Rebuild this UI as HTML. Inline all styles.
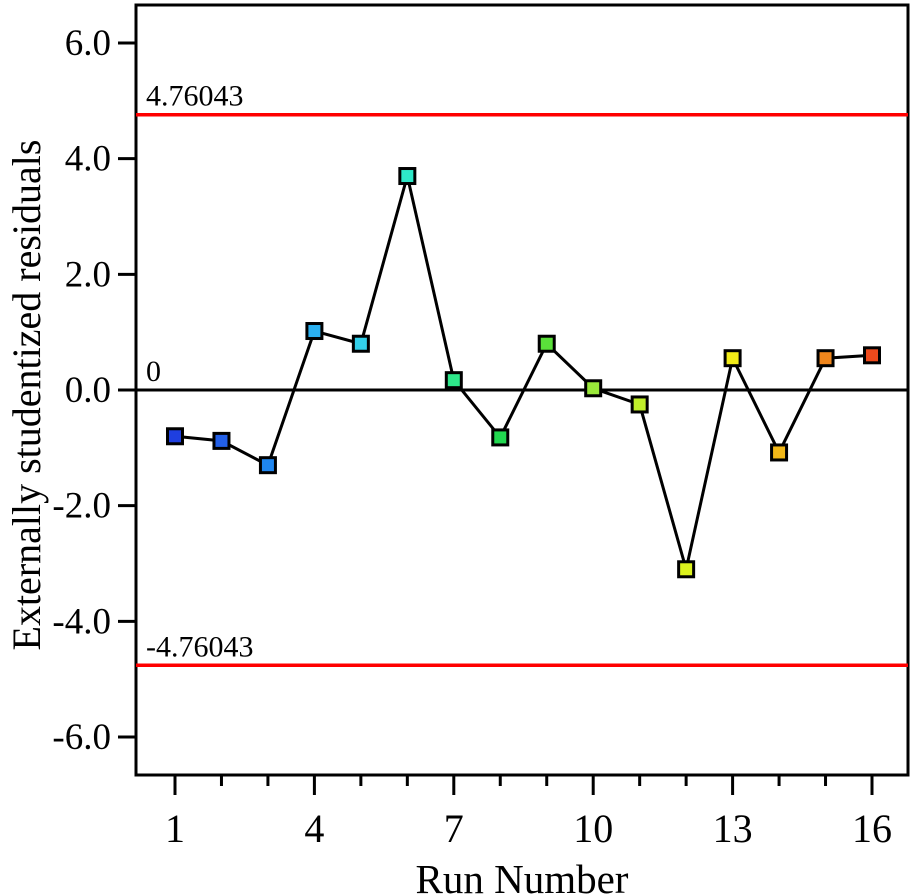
<!DOCTYPE html>
<html><head><meta charset="utf-8"><style>
body{margin:0;background:#fff}
svg{display:block;font-family:"Liberation Serif",serif}
</style></head><body>
<svg id="chart" width="914" height="895">
<g id="g"></g>
</svg>
<script>
const runs=[1,2,3,4,5,6,7,8,9,10,11,12,13,14,15,16];
const residuals=[-0.80,-0.88,-1.30,1.02,0.80,3.70,0.17,-0.82,0.80,0.03,-0.25,-3.10,0.55,-1.08,0.55,0.60];
const colors=["#1f3fe0","#2360e8","#1f86f0","#2bb0f0","#33d0ea","#2ee8c8","#2ee88a","#22d850","#5ae03a","#9ae83a","#c0ee2a","#dcf21e","#f2ec18","#f2b818","#f0861c","#ee4a1c"];
const yTicks=[6,4,2,0,-2,-4,-6];
const yTickLabels=["6.0","4.0","2.0","0.0","-2.0","-4.0","-6.0"];
const xTicks=[1,4,7,10,13,16];
const limits=[4.76043,-4.76043];
const limitLabels=["4.76043","-4.76043"];

const L=136,R=908,T=5,B=775;
const xs=v=>175+(v-1)*(872-175)/15;
const ys=v=>390-v*57.83;
const g=document.getElementById('g');
const NS="http://www.w3.org/2000/svg";
function mk(t,a,p){const e=document.createElementNS(NS,t);for(const k in a)e.setAttribute(k,a[k]);(p||g).appendChild(e);return e;}

let e=mk('rect',{x:L,y:T,width:R-L,height:B-T,fill:'none',stroke:'#000','stroke-width':3});



yTicks.forEach((v,i)=>{
  let t=mk('line',{x1:118,x2:L,y1:ys(v),y2:ys(v),stroke:'#000','stroke-width':3});
  
  
  let l=mk('text',{x:111,y:ys(v)+12,'text-anchor':'end','font-size':37});
  l.textContent=yTickLabels[i];
  
  
});
for(let r=1;r<=16;r++){
  const major=xTicks.includes(r);
  let t=mk('line',{x1:xs(r),x2:xs(r),y1:B,y2:B+(major?20:11),stroke:'#000','stroke-width':3});
  
  
}
xTicks.forEach(v=>{
  let l=mk('text',{x:xs(v),y:842,'text-anchor':'middle','font-size':40});
  l.textContent=v;
  
  
});
limits.forEach((v,i)=>{
  let ln=mk('line',{x1:L,x2:R,y1:ys(v),y2:ys(v),stroke:'#f00','stroke-width':3.5});
  
  
  let l=mk('text',{x:146,y:ys(v)-9,'font-size':30});
  l.textContent=limitLabels[i];
  
  
});
let z=mk('line',{x1:L,x2:R,y1:ys(0),y2:ys(0),stroke:'#000','stroke-width':3});


let zl=mk('text',{x:146,y:ys(0)-9,'font-size':30});
zl.textContent='0';



let pl=mk('polyline',{points:runs.map((r,i)=>xs(r)+','+ys(residuals[i])).join(' '),fill:'none',stroke:'#000','stroke-width':3});


runs.forEach((r,i)=>{
  let m=mk('rect',{x:xs(r)-7.5,y:ys(residuals[i])-7.5,width:15,height:15,fill:colors[i],stroke:'#000','stroke-width':3});
  
  
});
let xt=mk('text',{x:522,y:893,'text-anchor':'middle','font-size':41});
xt.textContent='Run Number';


let yt=mk('text',{x:0,y:0,'text-anchor':'middle','font-size':40,transform:'translate(40,395) rotate(-90)'});
yt.textContent='Externally studentized residuals';


</script>
</body></html>
